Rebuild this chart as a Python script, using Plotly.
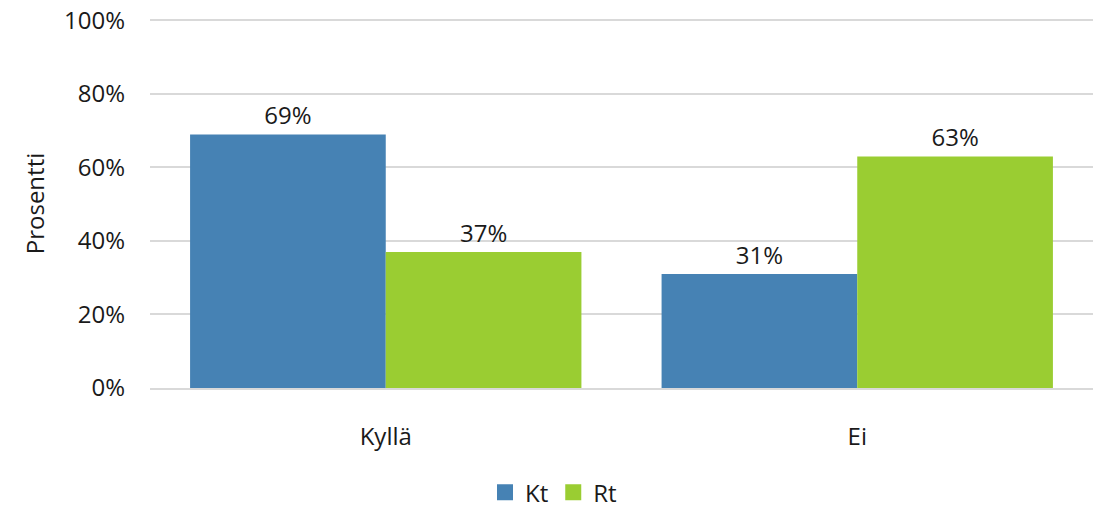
import plotly.graph_objects as go

categories = ['Kyllä', 'Ei']
kt_values = [69, 31]
rt_values = [37, 63]
y_ticks = [0, 20, 40, 60, 80, 100]

FONT = 'Open Sans'
COLORS = {'Kt': '#4682B4', 'Rt': '#9ACD32'}

fig = go.Figure()
for name, vals in [('Kt', kt_values), ('Rt', rt_values)]:
    fig.add_trace(go.Bar(
        x=categories, y=vals, name=name, showlegend=False,
        marker=dict(color=COLORS[name], line=dict(width=0)),
        texttemplate='%{y}%', textposition='outside',
        textfont=dict(size=24, color='#1a1a1a'), cliponaxis=False,
    ))
# legend-only entries with larger square swatches
for name in ['Kt', 'Rt']:
    fig.add_trace(go.Scatter(
        x=[None], y=[None], mode='markers', name=name,
        marker=dict(symbol='square', size=18, color=COLORS[name]),
    ))

fig.update_layout(
    width=1107, height=508,
    margin=dict(l=150, r=14, t=19, b=120, autoexpand=False),
    plot_bgcolor='white', paper_bgcolor='white',
    font=dict(family=FONT, size=24, color='#1a1a1a'),
    barmode='group', bargap=0.17, bargroupgap=0,
    showlegend=True,
    legend=dict(orientation='h', xref='container', x=0.5, xanchor='center',
                yref='container', y=0.03, yanchor='middle',
                font=dict(size=24), itemwidth=30),
)
fig.update_yaxes(
    range=[0, 100.4], tickvals=y_ticks, ticktext=[f'{v}%' for v in y_ticks],
    showgrid=True, gridcolor='#D9D9D9', gridwidth=2, automargin=False,
    zeroline=False, showline=False, ticks='', ticklabelstandoff=24,
    title=dict(text='Prosentti', font=dict(size=24), standoff=12),
)
fig.update_xaxes(showline=True, linecolor='#D9D9D9', linewidth=2, ticks='',
                 automargin=False, ticklabelstandoff=26, tickfont=dict(size=24))

fig.write_html('out.html', config={'displayModeBar': False},
               post_script="document.body.style.margin='0';")
